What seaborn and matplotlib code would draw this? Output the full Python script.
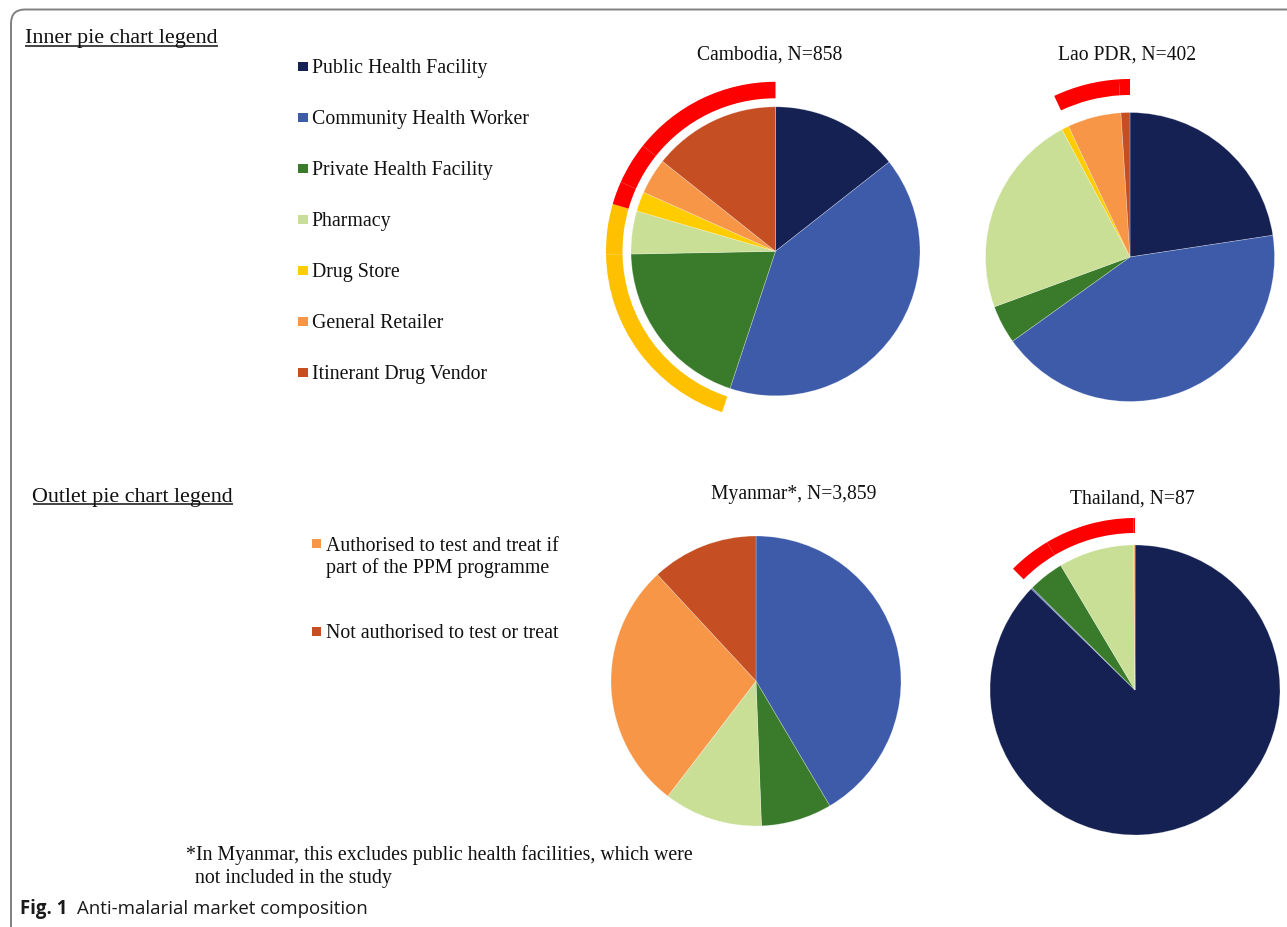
import matplotlib
matplotlib.use("Agg")
import matplotlib.pyplot as plt
from matplotlib.patches import Rectangle, FancyBboxPatch
import seaborn as sns

# ---------------- data ----------------
categories = ["Public Health Facility", "Community Health Worker", "Private Health Facility",
              "Pharmacy", "Drug Store", "General Retailer", "Itinerant Drug Vendor"]
cat_colors = ["#142152", "#3E5BA9", "#3A7B2B", "#C9DF96", "#FFCC00", "#F79646", "#C54E23"]

countries = ["Cambodia", "Lao PDR", "Myanmar*", "Thailand"]
sample_sizes = ["858", "402", "3,859", "87"]

cambodia_share = [14.4, 40.7, 19.6, 4.8, 2.2, 4.0, 14.3]
lao_share = [22.6, 42.5, 4.3, 22.8, 0.8, 6.0, 1.0]
myanmar_share = [0.0, 41.5, 7.9, 11.0, 0.0, 27.7, 11.9]
thailand_share = [87.3, 0.15, 4.0, 8.4, 0.0, 0.15, 0.0]

# authorisation status of each outlet type (outer ring); None = no ring
cambodia_auth = [None, None, "ppm", "ppm", "not", "not", "not"]
lao_auth = [None, None, None, None, None, "not", "not"]
myanmar_auth = [None, None, None, None, None, None, None]
thailand_auth = [None, None, "not", "not", None, "not", None]

ring_colors = {"ppm": "#FFC000", "not": "#FF0000"}

outlet_labels = [["Authorised to test and treat if", "part of the PPM programme"],
                 ["Not authorised to test or treat"]]
outlet_colors = ["#F79646", "#C54E23"]

footnote_lines = ["*In Myanmar, this excludes public health facilities, which were",
                  "not included in the study"]

# ---------------- style ----------------
sns.set_theme(style="white")
plt.rcParams["font.family"] = ["Liberation Serif", "DejaVu Serif"]

W, H = 1287, 927
fig = plt.figure(figsize=(W / 100, H / 100), dpi=100)
ax = fig.add_axes([0, 0, 1, 1])

def Y(y):
    return H - y

# layout per country: center x, center y, radius, ring inner, ring outer, title x, title baseline
layout = {
    "Cambodia": (775.5, 251.3, 144.5, 153.0, 169.5, 770.0, 59.3),
    "Lao PDR": (1130.0, 257.0, 144.5, 162.0, 178.0, 1127.0, 59.3),
    "Myanmar*": (756.0, 681.0, 145.0, 155.0, 171.0, 793.5, 499.0),
    "Thailand": (1135.0, 690.0, 145.0, 157.0, 172.0, 1132.0, 504.0),
}
shares = [cambodia_share, lao_share, myanmar_share, thailand_share]
auths = [cambodia_auth, lao_auth, myanmar_auth, thailand_auth]

for name, n, vals, auth in zip(countries, sample_sizes, shares, auths):
    cx, cy, r, rin, rout, tx, ty = layout[name]
    ax.pie(vals, colors=cat_colors, startangle=90, counterclock=False,
           center=(cx, Y(cy)), radius=r, frame=True,
           wedgeprops=dict(linewidth=0.5, edgecolor=(1, 1, 1, 0.35)))
    if any(a is not None for a in auth):
        rc = [ring_colors[a] if a else (0, 0, 0, 0) for a in auth]
        ax.pie(vals, colors=rc, startangle=90, counterclock=False,
               center=(cx, Y(cy)), radius=rout, frame=True,
               wedgeprops=dict(width=rout - rin, linewidth=0))
    ax.text(tx, Y(ty), f"{name}, N={n}", ha="center", va="baseline",
            fontsize=14.1, color="#111111")

# ---------------- legends ----------------
t_inner = ax.text(25, Y(42.8), "Inner pie chart legend", fontsize=15.8,
                  va="baseline", ha="left", color="#111111")
t_outlet = ax.text(32.5, Y(501.5), "Outlet pie chart legend", fontsize=15.8,
                   va="baseline", ha="left", color="#111111")

for i, (lab, col) in enumerate(zip(categories, cat_colors)):
    yc = 66.7 + 51.0 * i
    ax.add_patch(Rectangle((298.3, Y(yc + 4.75)), 9.5, 9.5, facecolor=col,
                           edgecolor="none"))
    ax.text(311.7, Y(yc + 6.6), lab, fontsize=14.3, va="baseline", ha="left",
            color="#111111")

outlet_y = [543.8, 631.0]
for lines, col, yc in zip(outlet_labels, outlet_colors, outlet_y):
    ax.add_patch(Rectangle((311.7, Y(yc + 4.5)), 9.0, 9.0, facecolor=col,
                           edgecolor="none"))
    for j, line in enumerate(lines):
        ax.text(326, Y(yc + 7.0 + 22.0 * j), line, fontsize=14.3, va="baseline",
                ha="left", color="#111111")

# footnote
ax.text(186, Y(860), footnote_lines[0], fontsize=14.3, va="baseline", ha="left",
        color="#111111")
ax.text(195, Y(883), footnote_lines[1], fontsize=14.3, va="baseline", ha="left",
        color="#111111")

# caption
t_fig = ax.text(20, Y(914), "Fig. 1", fontsize=13.4, fontweight="bold",
                family=["Open Sans", "DejaVu Sans"], va="baseline", ha="left",
                color="#1a1a1a")

# frame
ax.add_patch(FancyBboxPatch((11, Y(945)), 1300, 945 - 9.5,
                            boxstyle="round,pad=0,rounding_size=14",
                            fill=False, edgecolor="#808080", linewidth=1.4))

ax.set_xlim(0, W)
ax.set_ylim(0, H)
ax.set_aspect("equal")
ax.axis("off")

fig.canvas.draw()
rend = fig.canvas.get_renderer()
inv = ax.transData.inverted()

for t, uy in [(t_inner, 45.7), (t_outlet, 503.8)]:
    bb = t.get_window_extent(rend)
    (x0, _), (x1, _) = inv.transform([(bb.x0, bb.y0), (bb.x1, bb.y1)])
    ax.plot([x0, x1], [Y(uy), Y(uy)], color="#111111", linewidth=1.1,
            solid_capstyle="butt")

bb = t_fig.get_window_extent(rend)
x1 = inv.transform((bb.x1, bb.y0))[0]
ax.text(x1 + 10, Y(914), "Anti-malarial market composition", fontsize=13.4,
        family=["Open Sans", "DejaVu Sans"], va="baseline", ha="left",
        color="#1a1a1a")

ax.set_xlim(0, W)
ax.set_ylim(0, H)
fig.savefig("out.png", dpi=100)
